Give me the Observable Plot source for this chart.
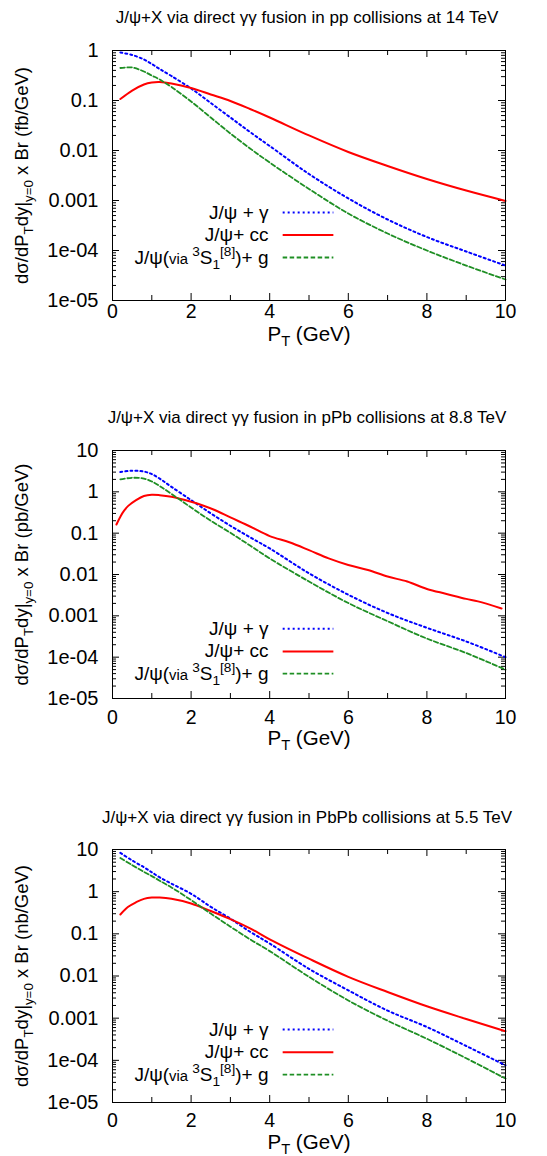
<!DOCTYPE html>
<html><head><meta charset="utf-8">
<script src="https://cdn.jsdelivr.net/npm/d3@7"></script>
<script src="https://cdn.jsdelivr.net/npm/@observablehq/plot@0.6"></script>
<style>
body{margin:0;background:#fff;}
#chart svg{display:block;background:#fff;}
</style>
</head><body><div id="chart"></div>
<script>
// ---------- data ----------
const ptGrid = [0.2,0.5,0.8,1,1.2,1.5,2,2.5,3,3.5,4,5,6,7,8,9,10];

// pp at 14 TeV (fb/GeV)
const ppGamma = [0.912,0.813,0.661,0.537,0.427,0.309,0.174,0.0891,0.0457,0.0234,0.0123,0.00339,0.0011,4.17e-4,1.86e-4,9.55e-5,5.0e-5];
const ppOctet = [0.447,0.457,0.380,0.316,0.263,0.186,0.0955,0.0457,0.0219,0.011,0.00575,0.0017,5.5e-4,2.19e-4,1.0e-4,5.0e-5,2.63e-5];
const ppCcPt = ptGrid;
const ppCc    = [0.107,0.158,0.209,0.229,0.234,0.219,0.178,0.132,0.0977,0.0676,0.0457,0.02,0.00933,0.0049,0.00269,0.00158,9.8e-4];

// pPb at 8.8 TeV (pb/GeV)
const pPbGamma = [3.02,3.24,3.09,2.69,2.09,1.32,0.631,0.302,0.151,0.0794,0.0427,0.0107,0.00324,0.00117,5.13e-4,2.4e-4,1.0e-4];
const pPbOctet = [2.0,2.19,2.09,1.78,1.38,0.891,0.417,0.2,0.102,0.0501,0.0245,0.00676,0.00204,7.41e-4,2.82e-4,1.26e-4,5.0e-5];
const pPbCcPt = [0.1,0.2,0.3,0.4,0.6,0.8,1.0,1.2,1.5,2,2.3,2.6,3,3.5,4,4.5,5,5.5,6,6.5,7,7.5,8,8.5,9,9.3,9.9];
const pPbCc   = [0.162,0.251,0.355,0.457,0.631,0.794,0.851,0.832,0.759,0.575,0.468,0.363,0.24,0.145,0.0851,0.0603,0.0389,0.0245,0.017,0.0129,0.00891,0.00676,0.00447,0.00339,0.00257,0.00224,0.00151];

// PbPb at 5.5 TeV (nb/GeV)
const PbPbGamma = [8.32,5.5,3.8,2.88,2.19,1.55,0.891,0.437,0.229,0.112,0.0589,0.0148,0.00457,0.00151,6.17e-4,2.19e-4,7.6e-5];
const PbPbOctet = [6.31,4.27,2.95,2.34,1.82,1.26,0.631,0.302,0.148,0.0741,0.0389,0.00955,0.00263,8.71e-4,3.24e-4,1.12e-4,3.7e-5];
const PbPbCcPt = [0.2,0.4,0.6,0.8,1,1.2,1.5,2,2.5,3,3.5,4,5,6,7,8,9,10];
const PbPbCc   = [0.288,0.437,0.562,0.676,0.724,0.724,0.676,0.525,0.347,0.224,0.135,0.0741,0.0257,0.00955,0.00417,0.00191,9.55e-4,4.9e-4];

// axis ticks
const xMajorTicks = [0,2,4,6,8,10];
const xMinorTicks = [1,3,5,7,9];
const yTicksTop1  = [1,0.1,0.01,0.001,1e-4,1e-5];
const yLabelsTop1 = ["1","0.1","0.01","0.001","1e-04","1e-05"];
const yTicksTop10  = [10,1,0.1,0.01,0.001,1e-4,1e-5];
const yLabelsTop10 = ["10","1","0.1","0.01","0.001","1e-04","1e-05"];

// texts
const titles = [
  "J/ψ+X via direct γγ fusion in pp collisions at 14 TeV",
  "J/ψ+X via direct γγ fusion in pPb collisions at 8.8 TeV",
  "J/ψ+X via direct γγ fusion in PbPb collisions at 5.5 TeV"
];
const units = ["fb/GeV","pb/GeV","nb/GeV"];
const legendLabels = ["J/ψ + γ","J/ψ+ cc","J/ψ(via 3S1[8])+ g"];
// legend anchor (in axis units: PT and cross-section)
const legendTextEnd = 3.97, legendLineStart = 4.33, legendLineEnd = 5.62;
const legendRowsY = [[5.75e-4,2.04e-4,7.24e-5],[4.9e-4,1.38e-4,3.98e-5],[5.37e-4,1.55e-4,4.57e-5]];

// rich text segments
const rich = new Map();
function addRich(segs){ rich.set(segs.map(s=>s[0]).join(""), segs); }
units.forEach(u => addRich([["dσ/dP"],["T","sub"],["dy|"],["y=0","sub"],[" x Br ("+u+")"]]));
addRich([["P"],["T","sub"],[" (GeV)"]]);
addRich([["J/ψ("],["via ","small"],["3","sup"],["S"],["1","sub"],["[8]","sup"],[")+ g"]]);

const styles = [
  {key:"gamma", color:"#0000ff", width:2, dash:"2,3"},
  {key:"cc", color:"#ff0000", width:2, dash:null},
  {key:"octet", color:"#1f8f24", width:1.8, dash:"4.5,2.5"}
];

const panels = [
  {height:390, mt:50, mb:90, domain:[1e-5,1], ticks:yTicksTop1, labels:yLabelsTop1, pad:4, xlabDy:34, titleDy:-33,
   series:{gamma:[ptGrid,ppGamma], cc:[ppCcPt,ppCc], octet:[ptGrid,ppOctet]}},
  {height:390, mt:60, mb:82, domain:[1e-5,10], ticks:yTicksTop10, labels:yLabelsTop10, pad:12, xlabDy:40, titleDy:-33,
   series:{gamma:[ptGrid,pPbGamma], cc:[pPbCcPt,pPbCc], octet:[ptGrid,pPbOctet]}},
  {height:376, mt:69, mb:54, domain:[1e-5,10], ticks:yTicksTop10, labels:yLabelsTop10, pad:11, xlabDy:39.5, titleDy:-32,
   series:{gamma:[ptGrid,PbPbGamma], cc:[PbPbCcPt,PbPbCc], octet:[ptGrid,PbPbOctet]}}
];

const W = 547, ML = 112, MR = 42;
const FONT = "'Liberation Sans', Arial, Helvetica, sans-serif";

function minorLogTicks([lo, hi]) {
  const out = [];
  for (let e = Math.floor(Math.log10(lo)); e < Math.ceil(Math.log10(hi)); e++)
    for (let m = 2; m <= 9; m++) { const v = m * Math.pow(10, e); if (v > lo && v < hi) out.push(v); }
  return out;
}

function makePanel(p, idx) {
  const hF = p.height - p.mt - p.mb;
  const wF = W - ML - MR;
  const minorY = minorLogTicks(p.domain);
  const marks = [];
  // ticks (inward, mirrored)
  marks.push(Plot.tickX(xMajorTicks, {x: d => d, insetTop: hF - 7, stroke: "black"}));
  marks.push(Plot.tickX(xMajorTicks, {x: d => d, insetBottom: hF - 7, stroke: "black"}));
  marks.push(Plot.tickX(xMinorTicks, {x: d => d, insetTop: hF - 5, stroke: "black"}));
  marks.push(Plot.tickX(xMinorTicks, {x: d => d, insetBottom: hF - 5, stroke: "black"}));
  marks.push(Plot.tickY(p.ticks, {y: d => d, insetRight: wF - 7, stroke: "black"}));
  marks.push(Plot.tickY(p.ticks, {y: d => d, insetLeft: wF - 7, stroke: "black"}));
  marks.push(Plot.tickY(minorY, {y: d => d, insetRight: wF - 4, stroke: "black"}));
  marks.push(Plot.tickY(minorY, {y: d => d, insetLeft: wF - 4, stroke: "black"}));
  // axes labels
  marks.push(Plot.axisX({ticks: xMajorTicks, tickSize: 0, tickPadding: p.pad, fontSize: 19.5, label: null, tickFormat: d => String(d)}));
  marks.push(Plot.axisY({ticks: p.ticks, tickSize: 0, tickPadding: 14, fontSize: 20, label: null,
    tickFormat: d => p.labels[p.ticks.indexOf(d)]}));
  // curves
  for (const s of styles) {
    const [xs, ys] = p.series[s.key];
    const data = xs.map((x, i) => ({pt: x, v: ys[i]}));
    marks.push(Plot.line(data, {x: "pt", y: "v", stroke: s.color, strokeWidth: s.width,
      strokeDasharray: s.dash, curve: "catmull-rom"}));
  }
  // legend
  const legOrder = ["gamma","cc","octet"];
  legOrder.forEach((k, i) => {
    const s = styles.find(t => t.key === k);
    const y = legendRowsY[idx][i];
    marks.push(Plot.text([legendLabels[i]], {x: legendTextEnd, y, text: d => d, textAnchor: "end", lineAnchor: "middle", fontSize: 19}));
    marks.push(Plot.link([{x1: legendLineStart, x2: legendLineEnd, y}], {x1: "x1", x2: "x2", y1: "y", y2: "y",
      stroke: s.color, strokeWidth: s.width, strokeDasharray: s.dash}));
  });
  marks.push(Plot.frame({stroke: "black", strokeWidth: 1}));
  // titles and axis labels
  marks.push(Plot.text([titles[idx]], {frameAnchor: "top", lineAnchor: "middle", textAnchor: "middle", dy: p.titleDy, dx: -2, text: d => d, fontSize: 17}));
  marks.push(Plot.text(["dσ/dPTdy|y=0 x Br (" + units[idx] + ")"], {frameAnchor: "left", lineAnchor: "middle", textAnchor: "middle", dx: -90, rotate: -90, text: d => d, fontSize: 18.5}));
  marks.push(Plot.text(["PT (GeV)"], {frameAnchor: "bottom", lineAnchor: "middle", textAnchor: "middle", dy: p.xlabDy, text: d => d, fontSize: 20.5}));

  return Plot.plot({
    width: W, height: p.height,
    marginTop: p.mt, marginBottom: p.mb, marginLeft: ML, marginRight: MR,
    style: {fontFamily: FONT, fontSize: "18px", color: "black", background: "white", overflow: "visible"},
    x: {domain: [0, 10]},
    y: {type: "log", domain: p.domain},
    marks
  });
}

function richify(svg) {
  for (const t of svg.querySelectorAll("text")) {
    const segs = rich.get(t.textContent);
    if (!segs) continue;
    const fs = parseFloat(getComputedStyle(t).fontSize) || 18;
    while (t.firstChild) t.removeChild(t.firstChild);
    let cur = 0;
    for (const [txt, kind] of segs) {
      const ts = document.createElementNS("http://www.w3.org/2000/svg", "tspan");
      const shift = kind === "sub" ? 0.26 * fs : kind === "sup" ? -0.42 * fs : 0;
      const size = (kind === "sub" || kind === "sup") ? 0.72 * fs : kind === "small" ? 0.78 * fs : fs;
      if (shift !== cur) ts.setAttribute("dy", (shift - cur).toFixed(2));
      cur = shift;
      ts.setAttribute("font-size", size.toFixed(2));
      ts.textContent = txt;
      t.appendChild(ts);
    }
  }
}

const root = document.getElementById("chart");
panels.forEach((p, i) => {
  const svg = makePanel(p, i);
  root.appendChild(svg);
  richify(svg);
});
</script>
</body></html>
